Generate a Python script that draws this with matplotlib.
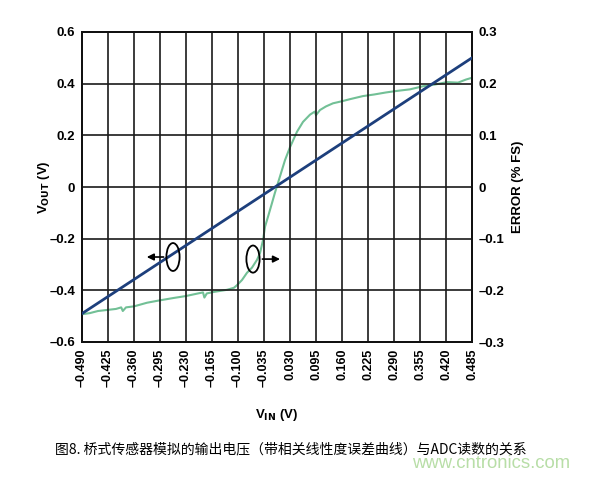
import matplotlib
matplotlib.use("Agg")
import matplotlib.pyplot as plt
from matplotlib.patches import Ellipse

# ---- data ----
vin_ticks = [-0.490, -0.425, -0.360, -0.295, -0.230, -0.165, -0.100, -0.035,
             0.030, 0.095, 0.160, 0.225, 0.290, 0.355, 0.420, 0.485]
vout_ticks = [-0.6, -0.4, -0.2, 0, 0.2, 0.4, 0.6]
err_ticks = [-0.3, -0.2, -0.1, 0, 0.1, 0.2, 0.3]

vout_x = [-0.490, 0.485]
vout_y = [-0.49, 0.50]

err_x = [-0.4875, -0.470, -0.450, -0.4275, -0.405, -0.392, -0.388, -0.380, -0.360,
         -0.3275, -0.300, -0.2625, -0.230, -0.200, -0.1875, -0.184, -0.178, -0.160,
         -0.1275, -0.110, -0.1025, -0.090, -0.0775, -0.065, -0.0525, -0.045,
         -0.0375, -0.0325, -0.024, -0.015, -0.008, 0.000, 0.0175, 0.030, 0.0475,
         0.0625, 0.080, 0.092, 0.095, 0.105, 0.120, 0.1375, 0.160, 0.180, 0.2125,
         0.240, 0.270, 0.2975, 0.330, 0.3625, 0.390, 0.4225, 0.450, 0.470, 0.4875]
err_y = [-0.246, -0.244, -0.240, -0.238, -0.236, -0.233, -0.240, -0.233, -0.231,
         -0.224, -0.220, -0.215, -0.211, -0.206, -0.204, -0.214, -0.206, -0.203,
         -0.199, -0.195, -0.190, -0.180, -0.166, -0.156, -0.141, -0.128,
         -0.103, -0.077, -0.055, -0.031, -0.012, 0.008, 0.052, 0.077, 0.107,
         0.126, 0.140, 0.146, 0.139, 0.149, 0.156, 0.162, 0.166, 0.170, 0.176,
         0.179, 0.183, 0.186, 0.189, 0.195, 0.198, 0.203, 0.202, 0.208, 0.212]

caption = "图8. 桥式传感器模拟的输出电压（带相关线性度误差曲线）与ADC读数的关系"
watermark = "www.cntronics.com"


def fmt(v, nd):
    if v == 0:
        return "0"
    s = ("%." + str(nd) + "f") % abs(v)
    return ("\u2013" + s) if v < 0 else s


# ---- figure ----
plt.rcParams['font.family'] = ['Liberation Sans', 'DejaVu Sans']
fig = plt.figure(figsize=(5.96, 4.78), dpi=100)
ax = fig.add_axes([82/596, 1-342/478, 390/596, 310/478])
ax2 = ax.twinx()

blue = '#1d3f7c'
green = '#72c096'

ax.set_xlim(-0.490, 0.485)
ax.set_ylim(-0.6, 0.6)
ax2.set_ylim(-0.3, 0.3)

ax.set_xticks(vin_ticks)
ax.set_xticklabels([fmt(v, 3) for v in vin_ticks], rotation=90, fontsize=9, fontweight='bold')
ax.set_yticks(vout_ticks)
ax.set_yticklabels([fmt(v, 1) for v in vout_ticks], fontsize=9.5, fontweight='bold')
ax2.set_yticks(err_ticks)
ax2.set_yticklabels([fmt(v, 1) for v in err_ticks], fontsize=9.5, fontweight='bold')

ax.grid(True, color='#1a1a1a', linewidth=1.2)
ax.tick_params(length=0, pad=5)
ax2.tick_params(length=0, pad=5)
for sp in list(ax.spines.values()) + list(ax2.spines.values()):
    sp.set_linewidth(1.4)
    sp.set_color('#111111')

ax2.plot(err_x, err_y, color=green, linewidth=1.5, zorder=3)
ax.plot(vout_x, vout_y, color=blue, linewidth=2.0, zorder=4)
ax.set_zorder(ax2.get_zorder() + 1)
ax.patch.set_visible(False)

# ellipse markers with arrows
ax.add_patch(Ellipse((-0.2625, -0.271), 0.033, 0.108, fill=False, lw=1.3, ec='black', zorder=5))
ax.annotate('', xy=(-0.335, -0.271), xytext=(-0.279, -0.271),
            arrowprops=dict(arrowstyle='-|>', color='black', lw=1.2, mutation_scale=10), zorder=5)
ax.add_patch(Ellipse((-0.0625, -0.279), 0.033, 0.105, fill=False, lw=1.3, ec='black', zorder=5))
ax.annotate('', xy=(0.012, -0.279), xytext=(-0.046, -0.279),
            arrowprops=dict(arrowstyle='-|>', color='black', lw=1.2, mutation_scale=10), zorder=5)

ax.set_ylabel(r'V$_{\mathbf{OUT}}$ (V)', fontsize=9.5, fontweight='bold')
ax.yaxis.set_label_coords(-0.077, 0.5)
ax.set_xlabel(r'V$_{\mathbf{IN}}$ (V)', fontsize=9.5, fontweight='bold')
ax.xaxis.set_label_coords(0.5, -0.21)
ax2.set_ylabel('ERROR (% FS)', fontsize=9.5, fontweight='bold')
ax2.yaxis.set_label_coords(1.1026, 0.5)

fig.text(55/596, 1-449/478, caption, fontsize=10,
         family=['Noto Sans CJK SC', 'DejaVu Sans'], va='center', ha='left')
fig.text(412/596, 1-463/478, watermark, fontsize=13.3, color='#b8dea7',
         va='center', ha='left', family='Liberation Sans')

fig.savefig('out.png', dpi=100)
